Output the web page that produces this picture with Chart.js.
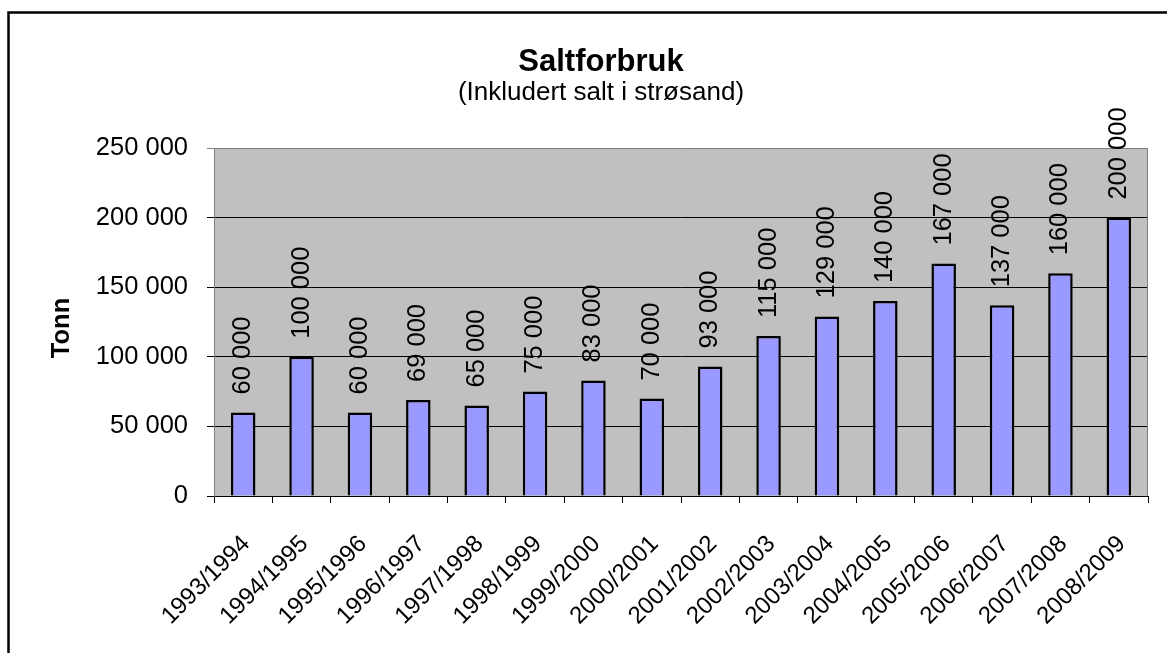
<!DOCTYPE html>
<html><head><meta charset="utf-8">
<script src="https://cdn.jsdelivr.net/npm/chart.js@4"></script>
<style>html,body{margin:0;padding:0;background:#fff;overflow:hidden}#wrap{width:1167px;height:653px;position:relative}</style>
</head><body><div id="wrap"><canvas id="c" width="1167" height="653"></canvas></div>
<script>
const categories = ['1993/1994','1994/1995','1995/1996','1996/1997','1997/1998','1998/1999','1999/2000','2000/2001','2001/2002','2002/2003','2003/2004','2004/2005','2005/2006','2006/2007','2007/2008','2008/2009'];
const values = [60000,100000,60000,69000,65000,75000,83000,70000,93000,115000,129000,140000,167000,137000,160000,200000];
const yMin = 0, yMax = 250000, yStep = 50000;
const chartTitle = 'Saltforbruk';
const chartSubtitle = '(Inkludert salt i strøsand)';
const yAxisTitle = 'Tonn';

const FONT = 'Liberation Sans, Arial, sans-serif';
const fmt = v => String(v).replace(/\B(?=(\d{3})+(?!\d))/g, ' ');

const decor = {
  id: 'decor',
  beforeDraw(chart) {
    const {ctx, chartArea: a} = chart;
    ctx.save();
    ctx.fillStyle = '#fff';
    ctx.fillRect(0, 0, chart.width, chart.height);
    ctx.fillStyle = '#C0C0C0';
    ctx.fillRect(a.left, a.top, a.right - a.left, a.bottom - a.top);
    ctx.restore();
  },
  beforeDatasetsDraw(chart) {
    const {ctx, chartArea: a} = chart;
    ctx.save();
    ctx.strokeStyle = '#808080';
    ctx.lineWidth = 1;
    ctx.beginPath();
    ctx.moveTo(Math.round(a.right) - 0.5, a.top);
    ctx.lineTo(Math.round(a.right) - 0.5, a.bottom);
    ctx.stroke();
    ctx.restore();
  },
  afterDatasetsDraw(chart) {
    const {ctx} = chart;
    const meta = chart.getDatasetMeta(0);
    ctx.save();
    ctx.fillStyle = '#000';
    ctx.font = '25.5px ' + FONT;
    ctx.textAlign = 'left';
    ctx.textBaseline = 'middle';
    meta.data.forEach((bar, i) => {
      ctx.save();
      ctx.translate(bar.x, bar.y - 18);
      ctx.rotate(-Math.PI / 2);
      ctx.fillText(fmt(values[i]), 0, 0);
      ctx.restore();
    });
    ctx.restore();
  },
  afterDraw(chart) {
    const {ctx} = chart;
    ctx.save();
    ctx.fillStyle = '#000';
    ctx.textAlign = 'center';
    ctx.textBaseline = 'alphabetic';
    ctx.font = 'bold 31px ' + FONT;
    ctx.fillText(chartTitle, 601, 71);
    ctx.font = '26px ' + FONT;
    ctx.fillText(chartSubtitle, 601, 100);
    ctx.save();
    ctx.translate(62, 328);
    ctx.rotate(-Math.PI / 2);
    ctx.textBaseline = 'middle';
    ctx.font = 'bold 25.5px ' + FONT;
    ctx.fillText(yAxisTitle, 0, 0);
    ctx.restore();
    ctx.strokeStyle = '#000';
    ctx.lineWidth = 2.5;
    ctx.strokeRect(8.5, 12.5, 1300, 800);
    ctx.restore();
  }
};

new Chart(document.getElementById('c'), {
  type: 'bar',
  data: {
    labels: categories,
    datasets: [{
      data: values,
      backgroundColor: '#9999FF',
      borderColor: '#000',
      borderWidth: 2.5,
      barPercentage: 0.42,
      categoryPercentage: 1
    }]
  },
  options: {
    responsive: false,
    devicePixelRatio: 1,
    animation: false,
    layout: {padding: {top: 148, right: 19, left: 0, bottom: 0}},
    plugins: {legend: {display: false}, title: {display: false}, tooltip: {enabled: false}},
    scales: {
      x: {
        afterFit: s => { s.height = 157; },
        grid: {offset: true, drawOnChartArea: false, tickLength: 7, color: '#000', lineWidth: 1},
        border: {color: '#000', width: 1},
        ticks: {autoSkip: false, maxRotation: 45, minRotation: 45, color: '#000', font: {family: FONT, size: 24}, labelOffset: 3, padding: 27}
      },
      y: {
        min: yMin, max: yMax,
        afterFit: s => { s.width = 214; },
        grid: {tickLength: 7, lineWidth: 1, color: c => c.tick && c.tick.value === yMax ? '#808080' : '#000'},
        border: {color: '#808080', width: 1},
        ticks: {stepSize: yStep, padding: 19, color: '#000', font: {family: FONT, size: 25.5}, callback: v => fmt(v)},
        title: {display: false, text: yAxisTitle}
      }
    }
  },
  plugins: [decor]
});
</script>
</body></html>
